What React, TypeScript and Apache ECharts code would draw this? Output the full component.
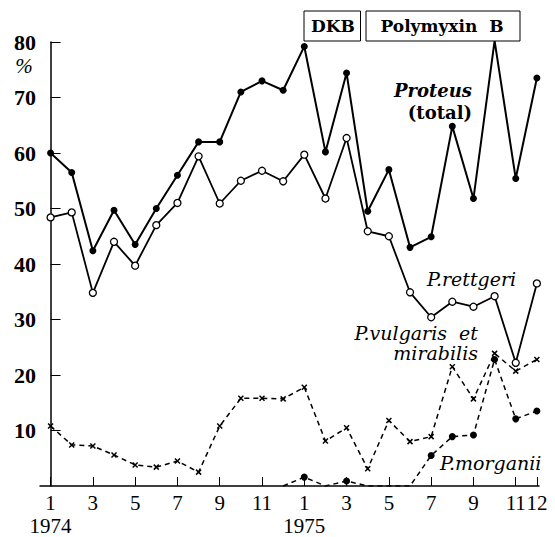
import React, { useEffect, useRef } from "react";
import * as echarts from "echarts";

const years = ["1974", "1975"];
const months = ["1", "2", "3", "4", "5", "6", "7", "8", "9", "10", "11", "12"];
const tickIndices = [0, 2, 4, 6, 8, 10, 12, 14, 16, 18, 20, 22, 23];

const proteusTotal = [60, 56.5, 42.4, 49.7, 43.5, 50, 56, 62, 62, 71, 73, 71.3,
  79.2, 60.2, 74.4, 49.5, 57, 43, 44.9, 64.8, 51.8, 80.2, 55.4, 73.5];
const rettgeri = [48.4, 49.3, 34.8, 44, 39.7, 47, 51, 59.4, 50.9, 55, 56.8, 54.9,
  59.7, 51.8, 62.7, 45.9, 45, 34.9, 30.4, 33.2, 32.3, 34.2, 22.2, 36.5];
const vulgarisMirabilis = [10.8, 7.4, 7.2, 5.6, 3.8, 3.4, 4.5, 2.5, 10.8, 15.8, 15.8, 15.7,
  17.8, 8.1, 10.5, 3.1, 11.8, 8.0, 8.9, 21.5, 15.7, 23.9, 20.7, 22.8];
const morganii: (number | null)[] = [null, null, null, null, null, null, null, null, null, null, null, 0,
  1.6, 0, 0.9, 0, 0, 0, 5.5, 8.9, 9.2, 22.8, 12.1, 13.5];
const yTicks = [10, 20, 30, 40, 50, 60, 70, 80];

const SERIF = "Liberation Serif";
const WIDE_SERIF = "DejaVu Serif";

export default function App() {
  const ref = useRef<HTMLDivElement>(null);
  useEffect(() => {
    if (!ref.current) return;
    const chart = echarts.init(ref.current, undefined, { renderer: "svg" });
    const toPairs = (arr: (number | null)[]) => arr.map((v, i) => [i, v]);
    const xPath = "path://M0,0L10,10M10,0L0,10";
    const txt = (x: number, y: number, text: string, size: number, style: string, weight: string, align: string, family = WIDE_SERIF) => ({
      type: "text",
      x,
      y,
      style: {
        text,
        fontFamily: family,
        fontSize: size,
        fontStyle: style,
        fontWeight: weight,
        fill: "#000",
        align,
        verticalAlign: "middle",
      },
    });
    const option: any = {
      animation: false,
      backgroundColor: "#fff",
      textStyle: { fontFamily: SERIF },
      grid: { left: 40, right: 16, top: 42, bottom: 49 },
      xAxis: {
        type: "value",
        min: -0.5,
        max: 23.1,
        splitLine: { show: false },
        axisLine: { show: true, onZero: false, lineStyle: { color: "#000", width: 1.5 } },
        axisTick: { show: true, inside: true, length: 9, customValues: tickIndices, lineStyle: { color: "#000", width: 1 } },
        axisLabel: {
          customValues: tickIndices,
          color: "#000",
          fontFamily: SERIF,
          fontSize: 21,
          lineHeight: 23,
          margin: 5,
          formatter: (v: number) => {
            const i = Math.round(v);
            const m = months[i % 12];
            if (i % 12 === 0) return m + "\n" + years[Math.floor(i / 12)];
            return m;
          },
        },
      },
      yAxis: {
        type: "value",
        min: 0,
        max: 80,
        interval: 10,
        splitLine: { show: false },
        axisLine: { show: true, lineStyle: { color: "#000", width: 1.5 } },
        axisTick: { show: true, inside: true, length: 10, customValues: yTicks, lineStyle: { color: "#000", width: 1 } },
        axisLabel: {
          customValues: yTicks,
          color: "#000",
          fontFamily: SERIF,
          fontWeight: "bold",
          fontSize: 22,
          margin: 4,
        },
      },
      series: [
        {
          name: "Proteus (total)",
          type: "line",
          data: toPairs(proteusTotal),
          symbol: "circle",
          symbolSize: 7,
          lineStyle: { color: "#000", width: 2 },
          itemStyle: { color: "#000" },
        },
        {
          name: "P.rettgeri",
          type: "line",
          data: toPairs(rettgeri),
          symbol: "circle",
          symbolSize: 7,
          lineStyle: { color: "#000", width: 1.8 },
          itemStyle: { color: "#fff", borderColor: "#000", borderWidth: 1.3 },
        },
        {
          name: "P.vulgaris et mirabilis",
          type: "line",
          data: toPairs(vulgarisMirabilis),
          symbol: xPath,
          symbolSize: 5,
          lineStyle: { color: "#000", width: 1.5, type: [5, 4] },
          itemStyle: { color: "#000", borderColor: "#000", borderWidth: 1.5 },
        },
        {
          name: "P.morganii",
          type: "line",
          data: morganii.map((v, i) => ({ value: [i, v], symbolSize: v ? 7 : 0 })),
          symbol: "circle",
          lineStyle: { color: "#000", width: 1.5, type: [5, 4] },
          itemStyle: { color: "#000" },
        },
      ],
      graphic: [
        txt(24, 66, "%", 21, "italic", "normal", "center", SERIF),
        { type: "rect", shape: { x: 304, y: 11, width: 56.5, height: 30 }, style: { fill: "#fff", stroke: "#000", lineWidth: 1 } },
        txt(333, 26, "DKB", 17, "normal", "bold", "center"),
        { type: "rect", shape: { x: 366, y: 11, width: 154, height: 30 }, style: { fill: "#fff", stroke: "#000", lineWidth: 1 } },
        txt(442, 26, "Polymyxin  B", 17, "normal", "bold", "center"),
        txt(472, 90, "Proteus", 18, "italic", "bold", "right"),
        txt(472, 112, "(total)", 18, "normal", "bold", "right"),
        txt(427, 279, "P.rettgeri", 19, "italic", "normal", "left"),
        txt(478, 333, "P.vulgaris  et", 19, "italic", "normal", "right"),
        txt(478, 353, "mirabilis", 19, "italic", "normal", "right"),
        txt(440, 463, "P.morganii", 19, "italic", "normal", "left"),
      ],
    };
    chart.setOption(option);
    return () => chart.dispose();
  }, []);
  return <div ref={ref} style={{ position: "absolute", left: 0, top: 0, width: 555, height: 537 }} />;
}
